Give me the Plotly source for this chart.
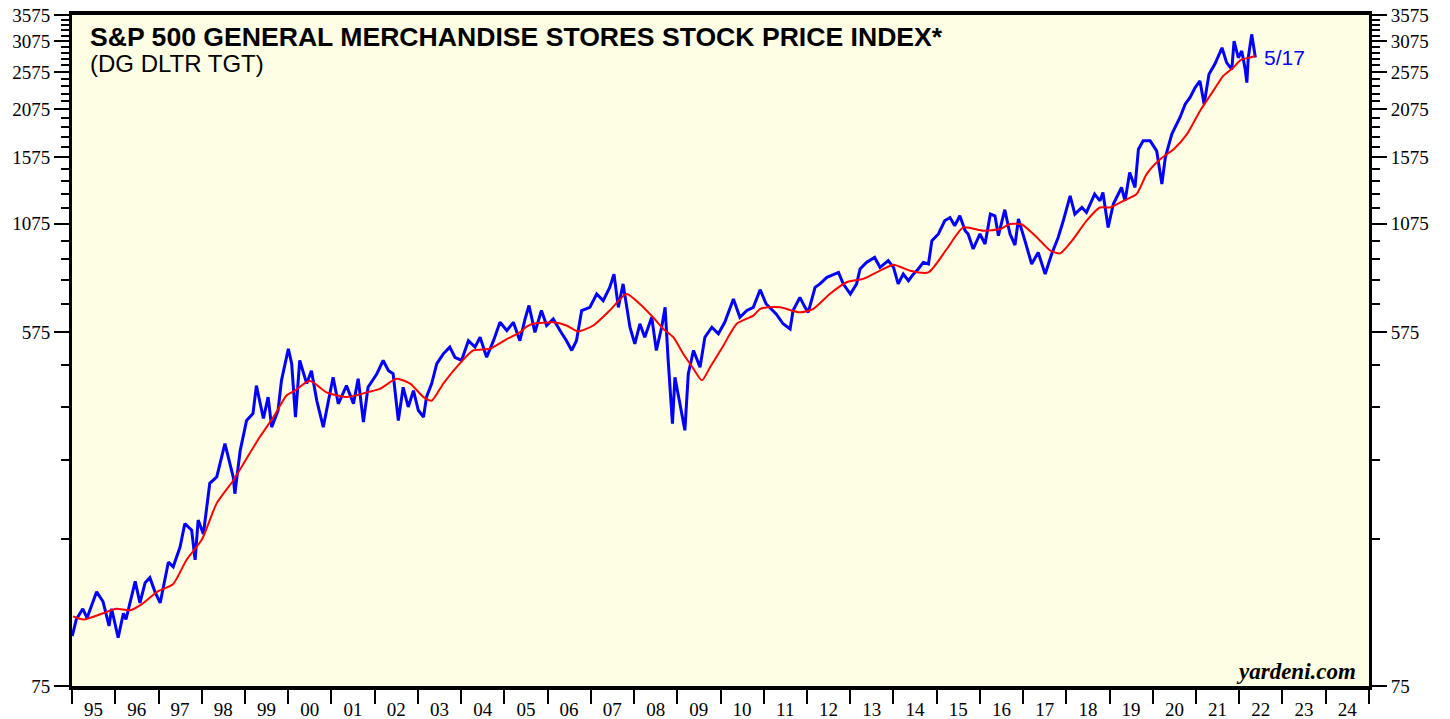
import plotly.graph_objects as go

# ── Data ──────────────────────────────────────────────
price_dates = [
    "1995-01-03", "1995-02-06", "1995-04-02", "1995-05-08", "1995-07-28", "1995-09-20",
    "1995-11-10", "1995-12-02", "1996-01-26", "1996-03-10", "1996-04-01", "1996-06-18",
    "1996-07-28", "1996-09-10", "1996-10-20", "1996-12-02", "1997-01-15", "1997-03-25",
    "1997-05-05", "1997-07-02", "1997-08-11", "1997-10-08", "1997-11-06", "1997-12-02",
    "1998-01-15", "1998-03-10", "1998-05-08", "1998-07-16", "1998-09-24", "1998-10-08",
    "1998-11-22", "1999-01-15", "1999-03-10", "1999-04-08", "1999-06-06", "1999-07-16",
    "1999-08-15", "1999-10-08", "1999-11-06", "2000-01-03", "2000-01-31", "2000-03-03",
    "2000-04-08", "2000-06-06", "2000-07-16", "2000-08-30", "2000-10-24", "2000-12-06",
    "2001-01-15", "2001-02-28", "2001-05-08", "2001-07-06", "2001-08-15", "2001-09-28",
    "2001-11-06", "2002-01-20", "2002-03-14", "2002-04-28", "2002-06-06", "2002-07-20",
    "2002-08-30", "2002-10-12", "2002-11-25", "2003-01-05", "2003-02-18", "2003-03-15",
    "2003-04-28", "2003-06-10", "2003-08-04", "2003-09-28", "2003-11-10", "2004-01-05",
    "2004-03-03", "2004-04-28", "2004-06-10", "2004-08-04", "2004-10-01", "2004-11-25",
    "2005-01-22", "2005-03-18", "2005-05-12", "2005-06-25", "2005-07-28", "2005-09-16",
    "2005-11-10", "2005-12-24", "2006-02-18", "2006-04-16", "2006-06-10", "2006-07-24",
    "2006-09-02", "2006-10-16", "2006-12-24", "2007-02-20", "2007-04-16", "2007-06-10",
    "2007-07-16", "2007-08-22", "2007-10-01", "2007-11-28", "2008-01-08", "2008-02-20",
    "2008-04-01", "2008-05-30", "2008-07-08", "2008-08-22", "2008-09-20", "2008-10-16",
    "2008-10-30", "2008-11-21", "2008-12-12", "2009-01-20", "2009-03-06", "2009-04-04",
    "2009-05-18", "2009-07-12", "2009-08-22", "2009-10-20", "2009-12-14", "2010-02-06",
    "2010-04-20", "2010-06-14", "2010-08-12", "2010-10-05", "2010-12-02", "2011-01-22",
    "2011-04-16", "2011-06-14", "2011-08-12", "2011-09-06", "2011-11-03", "2011-12-16",
    "2012-01-12", "2012-03-10", "2012-04-20", "2012-06-18", "2012-08-12", "2012-09-24",
    "2012-11-03", "2013-01-02", "2013-02-24", "2013-03-25", "2013-05-18", "2013-07-26",
    "2013-09-10", "2013-11-18", "2014-01-02", "2014-02-10", "2014-03-25", "2014-05-08",
    "2014-06-18", "2014-07-30", "2014-09-10", "2014-10-24", "2014-11-22", "2015-01-16",
    "2015-03-10", "2015-04-24", "2015-06-03", "2015-07-16", "2015-08-30", "2015-09-24",
    "2015-11-06", "2016-01-02", "2016-02-14", "2016-03-30", "2016-05-08", "2016-06-06",
    "2016-07-30", "2016-09-12", "2016-10-24", "2016-11-22", "2017-01-16", "2017-03-14",
    "2017-05-08", "2017-07-06", "2017-08-30", "2017-10-24", "2017-12-06", "2018-02-02",
    "2018-03-14", "2018-05-12", "2018-06-20", "2018-08-28", "2018-10-12", "2018-11-06",
    "2018-12-20", "2019-02-02", "2019-04-12", "2019-05-12", "2019-06-20", "2019-08-04",
    "2019-09-02", "2019-10-12", "2019-12-10", "2020-02-03", "2020-03-18", "2020-04-16",
    "2020-06-10", "2020-08-18", "2020-10-01", "2020-11-10", "2020-12-24", "2021-02-03",
    "2021-03-10", "2021-04-20", "2021-06-10", "2021-08-08", "2021-09-16", "2021-10-30",
    "2021-11-18", "2021-12-24", "2022-01-22", "2022-02-20", "2022-03-06", "2022-03-18",
    "2022-04-16", "2022-05-08", "2022-05-17",
]
price_values = [
    100, 110, 117, 111, 129, 122,
    106, 117, 99, 114, 110, 137,
    121, 136, 140, 129, 121, 153,
    149, 167, 191, 184, 155, 195,
    180, 241, 250, 303, 250, 227,
    291, 346, 360, 423, 350, 396,
    333, 367, 436, 523, 480, 353,
    489, 428, 461, 388, 333, 388,
    444, 381, 423, 381, 440, 343,
    419, 453, 489, 461, 453, 346,
    419, 374, 411, 367, 353, 396,
    428, 480, 508, 528, 498, 489,
    548, 528, 559, 498, 548, 609,
    581, 609, 548, 621, 671, 575,
    652, 598, 621, 581, 548, 518,
    548, 652, 664, 717, 690, 745,
    804, 664, 760, 592, 538, 604,
    559, 627, 518, 592, 664, 489,
    419, 340, 444, 381, 327, 453,
    518, 470, 559, 592, 570, 609,
    697, 627, 652, 664, 735, 677,
    639, 604, 586, 652, 703, 664,
    645, 745, 760, 789, 804, 812,
    760, 717, 760, 828, 860, 885,
    836, 869, 836, 760, 804, 774,
    804, 828, 860, 852, 975, 1013,
    1093, 1114, 1062, 1125, 1032, 1013,
    929, 1013, 956, 1136, 1125, 1003,
    1165, 1013, 950, 1104, 975, 852,
    911, 804, 903, 993, 1093, 1262,
    1136, 1180, 1147, 1275, 1226, 1286,
    1052, 1204, 1324, 1226, 1443, 1324,
    1651, 1732, 1732, 1635, 1350, 1573,
    1800, 1981, 2140, 2222, 2353, 2446,
    2140, 2542, 2700, 2961, 2718, 2615,
    3078, 2795, 2906, 2615, 2422, 2795,
    3198, 2906, 2800,
]

ma_dates = [
    "1995-01-10", "1995-04-10", "1995-09-20", "1996-01-10", "1996-05-05", "1996-08-10",
    "1996-12-20", "1997-05-05", "1997-08-25", "1998-01-01", "1998-05-08", "1998-09-24",
    "1999-01-15", "1999-05-08", "1999-08-30", "1999-12-20", "2000-02-28", "2000-07-01",
    "2000-11-20", "2001-05-08", "2001-08-01", "2001-10-28", "2002-02-14", "2002-07-05",
    "2002-10-28", "2003-02-18", "2003-04-28", "2003-08-04", "2003-12-20", "2004-04-12",
    "2004-09-01", "2005-01-22", "2005-05-12", "2005-07-08", "2005-09-01", "2006-02-18",
    "2006-06-10", "2006-09-16", "2007-01-22", "2007-06-10", "2007-10-30", "2008-02-20",
    "2008-06-10", "2008-09-06", "2008-11-28", "2009-02-20", "2009-05-18", "2009-07-28",
    "2009-10-05", "2010-01-26", "2010-05-18", "2010-10-05", "2010-12-02", "2011-02-10",
    "2011-05-20", "2011-11-03", "2012-02-24", "2012-07-12", "2012-12-02", "2013-04-20",
    "2013-09-10", "2014-01-02", "2014-05-22", "2014-10-24", "2015-03-28", "2015-08-15",
    "2016-01-30", "2016-06-20", "2016-09-12", "2016-12-20", "2017-04-28", "2017-08-20",
    "2017-11-10", "2018-02-18", "2018-06-20", "2018-10-12", "2019-01-05", "2019-04-28",
    "2019-08-18", "2019-11-10", "2020-03-03", "2020-06-26", "2020-10-16", "2021-02-03",
    "2021-05-26", "2021-08-18", "2021-09-16", "2021-11-10", "2022-01-15", "2022-04-01",
    "2022-05-17",
]
ma_values = [
    112, 110, 114, 117, 116, 120,
    129, 135, 155, 174, 215, 245,
    278, 315, 353, 400, 411, 435,
    407, 396, 400, 407, 415, 440,
    428, 396, 388, 428, 480, 518,
    523, 553, 575, 594, 604, 609,
    598, 578, 598, 652, 717, 677,
    627, 586, 559, 508, 466, 436,
    470, 533, 604, 633, 658, 664,
    664, 645, 658, 717, 767, 782,
    820, 849, 820, 812, 929, 1052,
    1032, 1042, 1073, 1070, 993, 920,
    906, 975, 1093, 1180, 1180, 1226,
    1275, 1430, 1558, 1651, 1800, 2058,
    2309, 2518, 2560, 2640, 2760, 2800,
    2823,
]

y_labels = [75, 575, 1075, 1575, 2075, 2575, 3075, 3575]
y_minor = [v for v in range(175, 3575, 100) if v not in y_labels]
year_labels = ["95", "96", "97", "98", "99", "00", "01", "02", "03", "04", "05", "06",
               "07", "08", "09", "10", "11", "12", "13", "14", "15", "16", "17", "18",
               "19", "20", "21", "22", "23", "24"]
year_mid = [f"{1995 + i}-07-02" for i in range(len(year_labels))]

BG = "#fefee4"
SERIF = "Liberation Serif, Times New Roman, serif"
SANS = "Liberation Sans, Arial, sans-serif"

fig = go.Figure()
fig.add_trace(go.Scatter(
    x=price_dates, y=price_values, mode="lines",
    line=dict(color="#0000ff", width=3), showlegend=False,
))
fig.add_trace(go.Scatter(
    x=ma_dates, y=ma_values, mode="lines",
    line=dict(color="#ff0000", width=2, shape="spline", smoothing=0.6), showlegend=False,
))
# invisible trace to carry the right-hand axis
fig.add_trace(go.Scatter(
    x=[price_dates[0]], y=[price_values[0]], yaxis="y2",
    mode="lines", line=dict(width=0), hoverinfo="skip", showlegend=False,
))

yaxis_common = dict(
    type="log", automargin=False, ticklabeloverflow="allow",
    range=[1.87506, 3.55331],
    tickmode="array", tickvals=y_labels, ticktext=[str(v) for v in y_labels],
    ticks="outside", ticklen=15, tickwidth=2, tickcolor="black",
    tickfont=dict(family=SERIF, size=19, color="black"),
    minor=dict(tickmode="array", tickvals=y_minor, ticks="outside",
               ticklen=8, tickwidth=2, tickcolor="black", showgrid=False),
    showgrid=False, zeroline=False,
)

fig.update_layout(
    width=1450, height=719,
    margin=dict(l=72, r=81, t=15, b=33),
    paper_bgcolor="white", plot_bgcolor=BG,
    xaxis=dict(
        type="date", range=["1995-01-01", "2025-01-01"], automargin=False,
        tickmode="array", tickvals=year_mid, ticktext=year_labels,
        ticks="outside", ticklen=3, tickcolor="rgba(0,0,0,0)",
        tickfont=dict(family=SERIF, size=19, color="black"),
        minor=dict(dtick="M12", tick0="1995-01-01", ticks="outside",
                   ticklen=14, tickwidth=2, tickcolor="black", showgrid=False),
        showline=True, linecolor="black", linewidth=4, mirror=True,
        showgrid=False, zeroline=False,
    ),
    yaxis=dict(showline=True, linecolor="black", linewidth=3, mirror=True, **yaxis_common),
    yaxis2=dict(overlaying="y", side="right", showline=True, linecolor="black",
                linewidth=3, **yaxis_common),
)

fig.add_annotation(
    xref="paper", yref="paper", x=0.0123, y=0.967, xanchor="left", yanchor="middle",
    text="<b>S&P 500 GENERAL MERCHANDISE STORES STOCK PRICE INDEX*</b>",
    font=dict(family=SANS, size=26.6, color="black"), showarrow=False,
)
fig.add_annotation(
    xref="paper", yref="paper", x=0.0123, y=0.927, xanchor="left", yanchor="middle",
    text="(DG DLTR TGT)", font=dict(family=SANS, size=24, color="black"), showarrow=False,
)
fig.add_annotation(
    xref="paper", yref="paper", x=0.9175, y=0.936, xanchor="left", yanchor="middle",
    text="5/17", font=dict(family=SANS, size=21, color="#0000ff"), showarrow=False,
)
fig.add_annotation(
    xref="paper", yref="paper", x=0.9915, y=0.021, xanchor="right", yanchor="middle",
    text="<b><i>yardeni.com</i></b>", font=dict(family=SERIF, size=23, color="black"),
    showarrow=False,
)

# drop the default 8px body margin so the figure sits flush in the window
fig.write_html(
    "out.html",
    config={"displayModeBar": False},
    post_script="document.body.style.margin = '0';",
)
